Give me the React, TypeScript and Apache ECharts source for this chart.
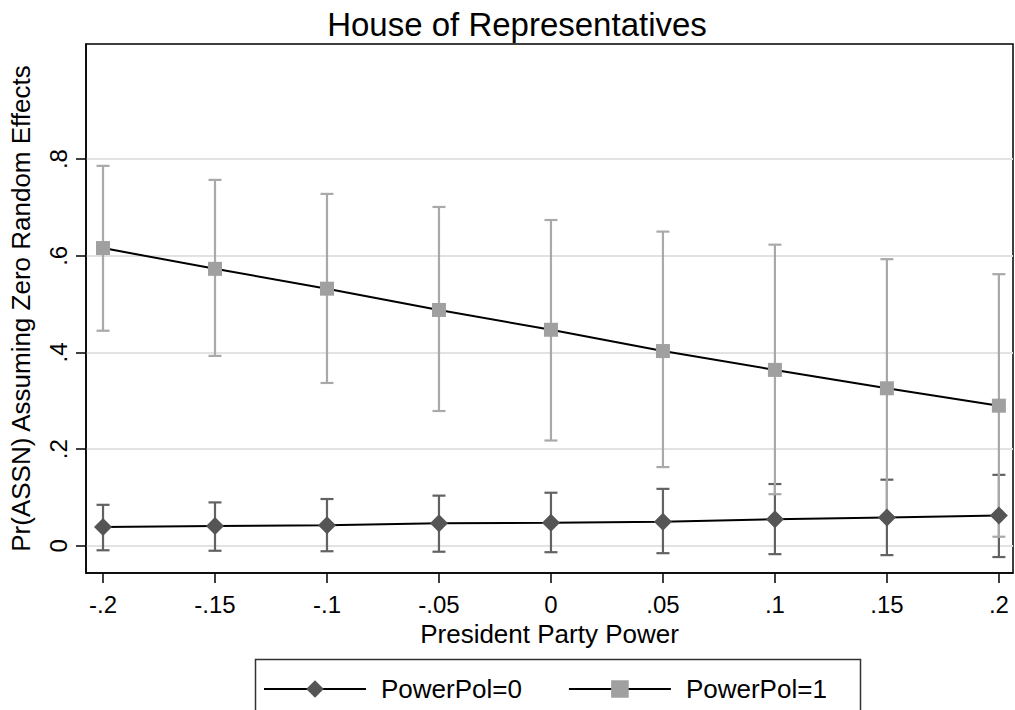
import React, { useEffect, useRef } from "react";
import * as echarts from "echarts";

const xValues = [-0.2, -0.15, -0.1, -0.05, 0, 0.05, 0.1, 0.15, 0.2];
const yTicks = [0, 0.2, 0.4, 0.6, 0.8];

const pp0 = [0.039, 0.041, 0.043, 0.047, 0.048, 0.05, 0.055, 0.059, 0.063];
const pp0Lo = [-0.009, -0.01, -0.011, -0.012, -0.013, -0.015, -0.017, -0.019, -0.023];
const pp0Hi = [0.085, 0.09, 0.097, 0.104, 0.11, 0.118, 0.128, 0.137, 0.147];

const pp1 = [0.616, 0.573, 0.532, 0.488, 0.447, 0.403, 0.364, 0.326, 0.29];
const pp1Lo = [0.445, 0.393, 0.337, 0.279, 0.218, 0.163, 0.107, 0.062, 0.019];
const pp1Hi = [0.786, 0.757, 0.728, 0.701, 0.674, 0.65, 0.623, 0.593, 0.562];

const DARK = "#555555";
const DARK_BAR = "#626262";
const LIGHT = "#a0a0a0";
const LIGHT_BAR = "#a9a9a9";
const FONT = "Liberation Sans, Arial, sans-serif";

const fmt = (v: number) => {
  if (Math.abs(v) < 1e-9) return "0";
  const s = String(Math.round(Math.abs(v) * 1000) / 1000).replace(/^0/, "");
  return (v < 0 ? "-" : "") + s;
};

const errRender = (color: string) => (params: any, api: any) => {
  const x = api.value(0);
  const lo = api.coord([x, api.value(1)]);
  const hi = api.coord([x, api.value(2)]);
  const hw = 6.5;
  const style = { stroke: color, lineWidth: 2.2 };
  return {
    type: "group",
    children: [
      { type: "line", shape: { x1: lo[0], y1: lo[1], x2: hi[0], y2: hi[1] }, style },
      { type: "line", shape: { x1: lo[0] - hw, y1: lo[1], x2: lo[0] + hw, y2: lo[1] }, style },
      { type: "line", shape: { x1: hi[0] - hw, y1: hi[1], x2: hi[0] + hw, y2: hi[1] }, style },
    ],
  };
};

export default function App() {
  const ref = useRef<HTMLDivElement>(null);
  useEffect(() => {
    if (!ref.current) return;
    const chart = echarts.init(ref.current, undefined, { renderer: "svg" });
    const err0 = xValues.map((x, i) => [x, pp0Lo[i], pp0Hi[i]]);
    const err1 = xValues.map((x, i) => [x, pp1Lo[i], pp1Hi[i]]);
    const line0 = xValues.map((x, i) => [x, pp0[i]]);
    const line1 = xValues.map((x, i) => [x, pp1[i]]);
    chart.setOption({
      animation: false,
      backgroundColor: "#ffffff",
      textStyle: { fontFamily: FONT, color: "#000" },
      title: {
        text: "House of Representatives",
        left: 512,
        top: 3,
        textAlign: "center",
        textStyle: { fontFamily: FONT, fontSize: 33, fontWeight: "normal", color: "#000" },
      },
      grid: {
        left: 86,
        top: 44,
        right: 2,
        bottom: 137,
        show: true,
        borderColor: "#000",
        borderWidth: 1.5,
        containLabel: false,
      },
      xAxis: {
        type: "value",
        min: -0.2076,
        max: 0.2063,
        name: "President Party Power",
        nameLocation: "middle",
        nameGap: 44,
        nameTextStyle: { fontFamily: FONT, fontSize: 26, color: "#000" },
        axisLine: { show: true, onZero: false, lineStyle: { color: "#000", width: 1.5 } },
        axisTick: { show: true, length: 10, customValues: xValues, lineStyle: { color: "#000", width: 1.5 } },
        axisLabel: {
          customValues: xValues,
          formatter: (v: number) => fmt(v),
          fontFamily: FONT,
          fontSize: 24,
          color: "#000",
          margin: 19,
        },
        splitLine: { show: false },
      },
      yAxis: {
        type: "value",
        min: -0.056,
        max: 1.038,
        name: "Pr(ASSN) Assuming Zero Random Effects",
        nameLocation: "middle",
        nameRotate: 90,
        nameGap: 52,
        nameTextStyle: { fontFamily: FONT, fontSize: 26, color: "#000" },
        axisLine: { show: true, onZero: false, lineStyle: { color: "#000", width: 1.5 } },
        axisTick: { show: true, length: 10, customValues: yTicks, lineStyle: { color: "#000", width: 1.5 } },
        axisLabel: {
          customValues: yTicks,
          rotate: 90,
          formatter: (v: number) => fmt(v),
          fontFamily: FONT,
          fontSize: 24,
          color: "#000",
          margin: 16,
        },
        splitLine: { show: true, lineStyle: { color: "#e2e2e2", width: 2 } },
      },
      legend: {
        data: ["PowerPol=0", "PowerPol=1"],
        left: 258,
        top: 671,
        itemWidth: 102,
        itemHeight: 22,
        itemGap: 46,
        textStyle: { fontFamily: FONT, fontSize: 26, color: "#000", padding: [0, 0, 0, 10] },
      },
      graphic: [
        {
          type: "rect",
          left: 253,
          top: 657,
          shape: { width: 605, height: 62 },
          style: { fill: "none", stroke: "#333", lineWidth: 1.5 },
          silent: true,
        },
      ],
      series: [
        {
          type: "custom",
          name: "err0",
          data: err0,
          renderItem: errRender(DARK_BAR),
          encode: { x: 0, y: [1, 2] },
          z: 2,
          silent: true,
        },
        {
          type: "custom",
          name: "err1",
          data: err1,
          renderItem: errRender(LIGHT_BAR),
          encode: { x: 0, y: [1, 2] },
          z: 3,
          silent: true,
        },
        {
          type: "line",
          name: "PowerPol=0",
          data: line0,
          symbol: "diamond",
          symbolSize: 18,
          lineStyle: { color: "#000", width: 2 },
          itemStyle: { color: DARK },
          z: 4,
        },
        {
          type: "line",
          name: "PowerPol=1",
          data: line1,
          symbol: "rect",
          symbolSize: 14,
          lineStyle: { color: "#000", width: 2 },
          itemStyle: { color: LIGHT },
          z: 5,
        },
      ],
    });
    return () => chart.dispose();
  }, []);
  return (
    <div
      ref={ref}
      style={{ position: "absolute", left: 0, top: 0, width: 1015, height: 710 }}
    />
  );
}
